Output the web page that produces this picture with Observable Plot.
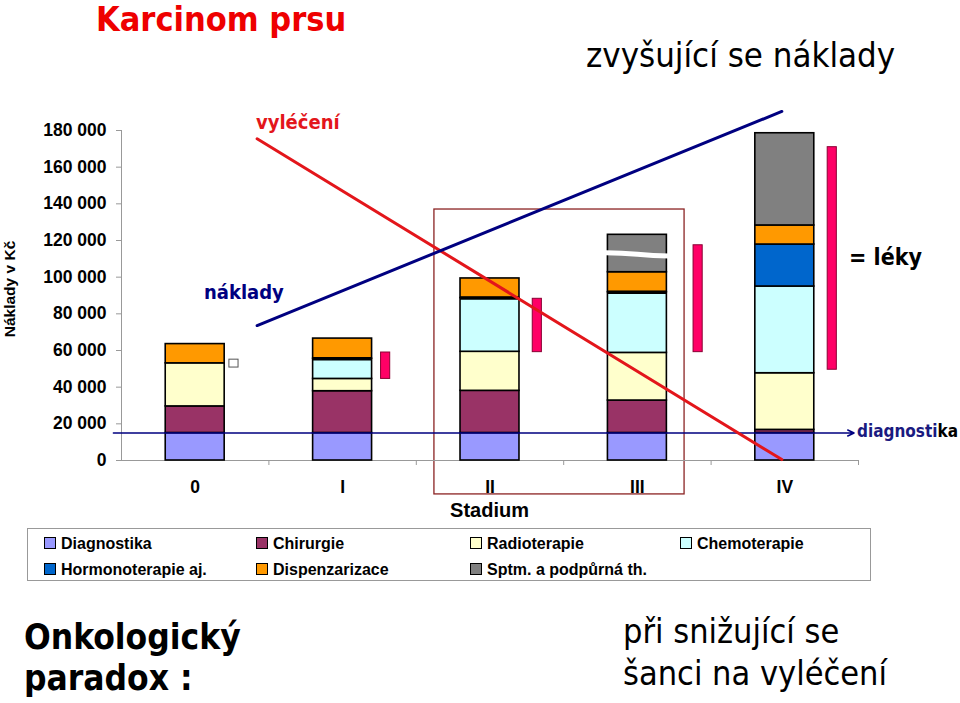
<!DOCTYPE html>
<html>
<head>
<meta charset="utf-8">
<script src="https://cdn.jsdelivr.net/npm/d3@7"></script>
<script src="https://cdn.jsdelivr.net/npm/@observablehq/plot@0.6"></script>
<style>
  body { margin: 0; background: #fff; }
  #wrap { position: relative; width: 960px; height: 703px; overflow: hidden; background: #fff; }
  #chart { position: absolute; left: 0; top: 0; }
  #chart text { font-size: 17.5px; font-weight: bold; fill: #000; }
  #overlay { position: absolute; left: 0; top: 0; pointer-events: none; }
</style>
</head>
<body>
<div id="wrap"><div id="chart"></div></div>
<script>
// ---------- data ----------
const stages = ["0", "I", "II", "III", "IV"];
const categories = ["Diagnostika", "Chirurgie", "Radioterapie", "Chemoterapie",
  "Hormonoterapie aj.", "Dispenzarizace", "Sptm. a podpůrná th."];
const colors = ["#9999ff", "#993366", "#ffffcc", "#ccffff", "#0066cc", "#ff9900", "#808080"];

const diagnostika    = [15000, 15000, 15000, 15000, 15000];
const chirurgie      = [14500, 22800, 23000, 17700, 1700];
const radioterapie   = [23500, 6700, 21300, 26000, 30900];
const chemoterapie   = [0, 11000, 29300, 33100, 47300];
const hormonoterapie = [0, 0, 0, 0, 22900];
const dispenzarizace = [10500, 11000, 10700, 10900, 10400];
const sptm           = [0, 0, 0, 20400, 50300];

// "léky" (drugs) span per stage
const lekyLow  = [50700, 44500, 59100, 59100, 49500];
const lekyHigh = [55000, 58900, 88200, 117400, 170900];

const yTicks = [0, 20000, 40000, 60000, 80000, 100000, 120000, 140000, 160000, 180000];

// schematic trend lines (stage index, value)
const vyleceni = [{stage: 0.42, value: 175500}, {stage: 3.98, value: 500}];
const naklady  = [{stage: 0.42, value: 73600}, {stage: 3.98, value: 190400}];
const diagLevel = 15000;
const breakValue = [113300, 111600]; // axis-break in stage III grey segment

// ---------- layout constants ----------
const barHalf = 0.2;
const lekyOffset = [0.263, 0.292, 0.321, 0.412, 0.322];
const lekyHalf = 0.031;

// ---------- derived rows ----------
const series = [diagnostika, chirurgie, radioterapie, chemoterapie, hormonoterapie, dispenzarizace, sptm];
const rows = [];
stages.forEach((s, i) => {
  let acc = 0;
  series.forEach((arr, k) => {
    const v = arr[i];
    if (v > 0) rows.push({i, cat: categories[k], color: colors[k], y1: acc, y2: acc + v});
    acc += v;
  });
});
// thick separator below Dispenzarizace where the chemo layer ends (stages I–III)
const seps = rows.filter(d => d.cat === "Dispenzarizace" && d.i >= 1 && d.i <= 3);
const leky = stages.map((s, i) => ({i, lo: lekyLow[i], hi: lekyHigh[i], empty: i === 0}));

const fmt = d => d3.format(",")(d).replace(/,/g, " ");

const plot = Plot.plot({
  width: 960,
  height: 520,
  marginLeft: 121,
  marginRight: 102,
  marginTop: 130,
  marginBottom: 60,
  x: {type: "linear", domain: [-0.5, 4.5], axis: null},
  y: {domain: [0, 180000], axis: null},
  color: {type: "identity"},
  style: {fontFamily: "'Liberation Sans', Arial, sans-serif", fontSize: "16px", background: "white", overflow: "visible"},
  marks: [
    // highlight box around stages II–III
    Plot.rect([{x1: 1.623, x2: 3.32, y1: -18500, y2: 136900}], {
      x1: "x1", x2: "x2", y1: "y1", y2: "y2", fill: "none", stroke: "#8b2323", strokeWidth: 1.3
    }),
    // axes lines
    Plot.ruleX([-0.5], {y1: 0, y2: 180000, stroke: "#999"}),
    Plot.ruleY([0], {x1: -0.5, x2: 4.5, stroke: "#999"}),
    Plot.axisY(yTicks, {anchor: "left", tickSize: 5, tickPadding: 10, tickFormat: fmt,
      fontWeight: "bold", fontSize: 17, stroke: "#999", label: null}),
    Plot.axisX([0.5, 1.5, 2.5, 3.5, 4.5], {anchor: "bottom", tickSize: 5, tickFormat: () => "",
      stroke: "#999", label: null}),
    Plot.axisX([0, 1, 2, 3, 4], {anchor: "bottom", tickSize: 0, tickPadding: 20,
      tickFormat: i => stages[i], fontWeight: "bold", fontSize: 17, label: null}),
    // stacked bars
    Plot.rect(rows, {
      x1: d => d.i - barHalf, x2: d => d.i + barHalf, y1: "y1", y2: "y2",
      fill: "color", stroke: "black", strokeWidth: 1.6
    }),
    Plot.ruleY(seps, {x1: d => d.i - barHalf, x2: d => d.i + barHalf, y: "y1",
      stroke: "black", strokeWidth: 3.5}),
    // break in stage III
    Plot.link([{s: 3}], {
      x1: d => d.s - 0.215, x2: d => d.s + 0.215, y1: breakValue[0], y2: breakValue[1],
      stroke: "white", strokeWidth: 5, curve: "bump-x"
    }),
    // léky markers
    Plot.rect(leky, {
      x1: d => d.i + lekyOffset[d.i] - lekyHalf, x2: d => d.i + lekyOffset[d.i] + lekyHalf,
      y1: "lo", y2: "hi",
      fill: d => d.empty ? "white" : "#ff0066",
      stroke: d => d.empty ? "#555" : "#8a0033", strokeWidth: 1
    }),
    // diagnostika arrow
    Plot.arrow([{}], {
      x1: -0.555, x2: 4.47, y1: diagLevel, y2: diagLevel,
      stroke: "#000080", strokeWidth: 1.5, headLength: 7, headAngle: 50
    }),
    // trend lines
    Plot.line(vyleceni, {x: "stage", y: "value", stroke: "#e3161b", strokeWidth: 3}),
    Plot.line(naklady, {x: "stage", y: "value", stroke: "#000080", strokeWidth: 3})
  ]
});
document.getElementById("chart").appendChild(plot);

// ---------- overlay texts ----------
const cond = "'DejaVu Sans Condensed', 'DejaVu Sans', sans-serif";
const arial = "'Liberation Sans', Arial, sans-serif";
const ov = d3.select("#wrap").append("svg").attr("id", "overlay")
  .attr("width", 960).attr("height", 703);

function txt(x, y, s, o) {
  const t = ov.append("text").attr("x", x).attr("y", y).text(s)
    .attr("font-family", o.family || cond)
    .attr("font-size", o.size)
    .attr("font-weight", o.weight || "normal")
    .attr("fill", o.fill || "black")
    .attr("font-stretch", o.family === arial ? null : "condensed");
  if (o.anchor) t.attr("text-anchor", o.anchor);
  return t;
}

txt(96, 31, "Karcinom prsu", {size: 34, weight: "bold", fill: "#ee0000"});
txt(586, 67, "zvyšující se náklady", {size: 34.5});
txt(256, 129, "vyléčení", {size: 20, weight: "bold", fill: "#e3161b"});
txt(204, 299, "náklady", {size: 20, weight: "bold", fill: "#000080"});
txt(849, 265, "= léky", {size: 23, weight: "bold"});
const dg = txt(857, 437, "", {size: 17, weight: "bold"});
dg.append("tspan").attr("fill", "#1a1a80").text("diagnosti");
dg.append("tspan").attr("fill", "black").text("ka");

ov.append("text").attr("transform", "translate(15,289) rotate(-90)")
  .attr("text-anchor", "middle").attr("font-family", arial).attr("font-weight", "bold")
  .attr("font-size", 15.5).text("Náklady v Kč");

txt(489.5, 517, "Stadium", {family: arial, size: 20, weight: "bold", anchor: "middle"});

txt(24, 649, "Onkologický", {size: 35, weight: "bold"});
txt(24, 690, "paradox :", {size: 35, weight: "bold"});
txt(623, 643, "při snižující se", {size: 34});
txt(623, 685, "šanci na vyléčení", {size: 34});

// ---------- legend ----------
ov.append("rect").attr("x", 27.5).attr("y", 528.5).attr("width", 843).attr("height", 52)
  .attr("fill", "white").attr("stroke", "#999");
const legendPos = [[44, 543], [256, 543], [470, 543], [680, 543], [44, 569], [256, 569], [470, 569]];
categories.forEach((c, k) => {
  const [lx, ly] = legendPos[k];
  ov.append("rect").attr("x", lx + 0.5).attr("y", ly - 5.5).attr("width", 11).attr("height", 11)
    .attr("fill", colors[k]).attr("stroke", "black").attr("stroke-width", 1);
  txt(lx + 17, ly + 5.5, c, {family: arial, size: 16, weight: "bold"});
});
</script>
</body>
</html>
